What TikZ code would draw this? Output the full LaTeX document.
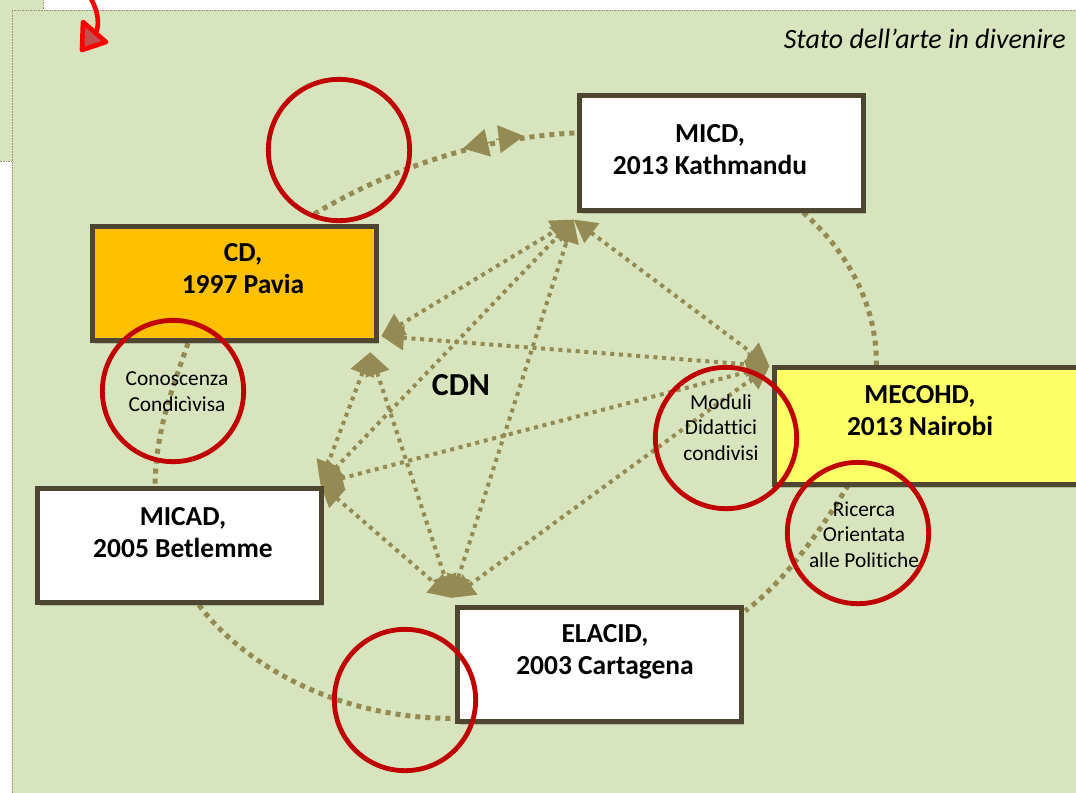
\documentclass[tikz,border=0pt]{standalone}
\usepackage{fontspec}
\setmainfont[Ligatures=NoCommon]{Carlito}
\usetikzlibrary{arrows.meta,shadows,calc}
\definecolor{bggreen}{HTML}{D7E4BD}
\definecolor{panelborder}{HTML}{9C9470}
\definecolor{boxborder}{HTML}{4D4731}
\definecolor{olive}{HTML}{948A54}
\definecolor{cdorange}{HTML}{FFC000}
\definecolor{mecyellow}{HTML}{FFFF66}
\definecolor{circred}{HTML}{C00000}
\definecolor{arrowfill}{HTML}{C0504D}
\begin{document}
\begin{tikzpicture}[x=0.75pt,y=-0.75pt,
  panel/.style={fill=bggreen, draw=panelborder, line width=0.75pt, dash pattern=on 1.2pt off 0.8pt},
  box/.style={draw=boxborder, line width=3.75pt, minimum width=213pt, minimum height=86pt, inner sep=0pt,
    drop shadow={shadow xshift=2.5pt, shadow yshift=-2.5pt, opacity=0.25, fill=black!70}},
  boxtext/.style={font=\fontsize{20.6}{24}\selectfont\bfseries, align=center, inner sep=0pt},
  smalltext/.style={font=\fontsize{16}{19}\selectfont, align=center, inner sep=0pt},
  redcircle/.style={circle, draw=circred, line width=3.6pt, minimum size=106pt, inner sep=0pt},
  outerlink/.style={draw=olive, line width=3.75pt, dash pattern=on 3.75pt off 3.75pt},
  innerlink/.style={draw=olive, line width=3pt, dash pattern=on 3pt off 3.5pt,
    {Triangle[length=17pt,width=18pt]}-{Triangle[length=17pt,width=18pt]}},
  bigtip/.style={draw=olive, fill=olive, line width=1pt, -{Triangle[length=19pt,width=21pt]}},
]
\useasboundingbox (0,0) rectangle (1076,793);
\clip (0,0) rectangle (1076,793);
% background panels
\fill[white] (0,0) rectangle (1076,793);
\path[panel] (-10,-10) rectangle (43,161);
\path[panel] (12,10) rectangle (1100,820);
% title
\node[font=\fontsize{21}{25}\selectfont\itshape, anchor=east, inner sep=0pt] (title) at (1066,39) {Stato dell’arte in divenire};
% red curved arrow
\draw[red, line width=3.5pt] (89,-5) .. controls (99,12) and (100,26) .. (95,34);
\draw[red, line width=3.5pt, line join=round, fill=arrowfill] (83,22) -- (106,42) -- (82,50) -- cycle;
% box positions
\path (721,153) coordinate (micdc) (234,283.5) coordinate (cdc) (932,426) coordinate (mecc)
      (179,545.5) coordinate (micadc) (599,664.5) coordinate (elac);
\path node[minimum width=213pt, minimum height=86pt, inner sep=0pt] (micd) at (micdc) {}
      node[minimum width=213pt, minimum height=86pt, inner sep=0pt] (cd) at (cdc) {}
      node[minimum width=236pt, minimum height=88pt, inner sep=0pt] (mec) at (mecc) {}
      node[minimum width=213pt, minimum height=86pt, inner sep=0pt] (micad) at (micadc) {}
      node[minimum width=213pt, minimum height=86pt, inner sep=0pt] (ela) at (elac) {};
% outer dotted curves
\draw[outerlink] ($(cd.north east)+(-62,-12)$) .. controls (380,175) and (470,138) .. ($(micd.west)+(-4,-20)$);
\draw[bigtip] (491,142) -- (463,148.5);
\draw[bigtip] (496,139.5) -- (524,136);
\draw[outerlink] ($(micd.south east)+(-60,2)$) .. controls (838,243) and (877,295) .. ($(mec.north west)+(102,-2)$);
\draw[outerlink] ($(mec.south west)+(74,0)$) .. controls (830,515) and (790,578) .. ($(ela.north east)+(4,4)$);
\draw[outerlink] ($(micad.south)+(20,2)$) .. controls (240,660) and (330,718) .. ($(ela.west)+(-4,54)$);
\draw[outerlink] ($(cd.south)+(-46,2)$) .. controls (172,390) and (156,430) .. ($(micad.north)+(-24,-3)$);
% inner link end points
\coordinate (pMICD) at ($(micd.south west)+(-5,9)$);
\coordinate (pCDa) at ($(cd.south east)+(5,-5)$);
\coordinate (pCDb) at ($(cd.south east)+(-6,11)$);
\coordinate (pMEC) at ($(mec.north west)+(-5,-1)$);
\coordinate (pMICAD) at ($(micad.north east)+(-1,-4)$);
\coordinate (pELA) at ($(ela.north west)+(-5,-9)$);
\draw[innerlink] (pCDa) -- (pMICD);
\draw[innerlink] (pMICAD) -- (pMICD);
\draw[innerlink] (pELA) -- (pMICD);
\draw[innerlink] (pMICD) -- (pMEC);
\draw[innerlink] (pCDa) -- (pMEC);
\draw[innerlink] (pCDb) -- (pMICAD);
\draw[innerlink] (pCDb) -- (pELA);
\draw[innerlink] (pMICAD) -- (pMEC);
\draw[innerlink] (pMICAD) -- (pELA);
\draw[innerlink] (pELA) -- (pMEC);
% drawn boxes
\node[box, fill=white] (micdbox) at (micdc) {};
\node[box, fill=cdorange] (cdbox) at (cdc) {};
\node[box, fill=mecyellow, minimum width=236pt, minimum height=88pt] (mecbox) at (mecc) {};
\node[box, fill=white] (micadbox) at (micadc) {};
\node[box, fill=white] (elabox) at (elac) {};
% box texts
\node[boxtext] (micdt) at (710,150) {MICD,\\2013 Kathmandu};
\node[boxtext] (cdt) at (243,269) {CD,\\1997 Pavia};
\node[boxtext] (mect) at (920,411) {MECOHD,\\2013 Nairobi};
\node[boxtext] (micadt) at (183,533) {MICAD,\\2005 Betlemme};
\node[boxtext] (elat) at (605,652) {ELACID,\\2003 Cartagena};
\node[font=\fontsize{24}{28}\selectfont\bfseries, inner sep=0pt] (cdn) at (461,385) {CDN};
% red circles
\node[redcircle] (c1) at (339,150) {};
\node[redcircle] (c2) at (173,391) {};
\node[redcircle] (c3) at (726,438) {};
\node[redcircle] (c4) at (858,533) {};
\node[redcircle] (c5) at (405,700) {};
% circle texts
\node[smalltext] (c2t) at (177,391.5) {Conoscenza\\Condicìvisa};
\node[smalltext] (c3t) at (721,427.5) {Moduli\\Didattici\\condivisi};
\node[smalltext] (c4t) at (864,534.5) {Ricerca\\Orientata\\alle Politiche};
\end{tikzpicture}
\end{document}
